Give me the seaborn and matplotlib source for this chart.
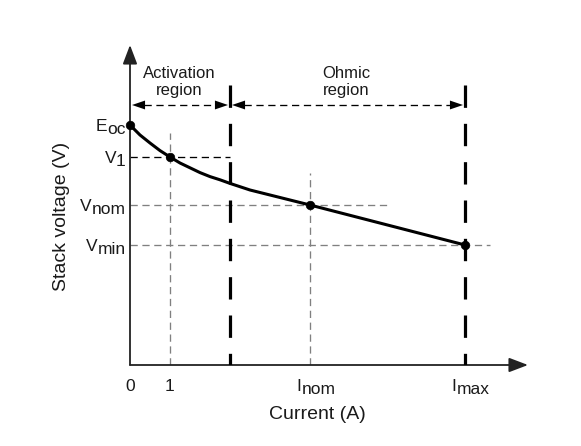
import matplotlib
matplotlib.use("Agg")
import matplotlib.pyplot as plt
import seaborn as sns

# polarization curve (1 current unit = 40 px, 1 voltage unit = 40 px)
current = [0, 0.25, 0.5, 0.75, 1, 1.25, 1.5, 1.75, 2.0, 2.25, 2.5, 3.0, 3.5, 4.0, 4.5, 8.375]
voltage = [6.0, 5.75, 5.55, 5.36, 5.2, 5.05, 4.93, 4.81, 4.71, 4.63, 4.54, 4.375, 4.25, 4.125, 4.0, 3.0]

# marked points: Eoc, V1, Vnom, Vmin
pt_current = [0, 1, 4.5, 8.375]
pt_voltage = [6.0, 5.2, 4.0, 3.0]
v_names = [("E", "oc"), ("V", "1"), ("V", "nom"), ("V", "min")]
i_ticks = [0, 1, 4.5, 8.375]
i_names = [("0", ""), ("1", ""), ("I", "nom"), ("I", "max")]

i_boundary = 2.5
regions = ["Activation\nregion", "Ohmic\nregion"]
region_x = [1.22, 5.4]

sns.set_style("white")
plt.rcParams["font.family"] = ["Liberation Sans", "DejaVu Sans"]
txt = "#1a1a1a"
gray = "#808080"

fig = plt.figure(figsize=(5.81, 4.46), dpi=100)
ax = fig.add_axes([130 / 581, 81 / 446, 400 / 581, 324 / 446])
ax.set_xlim(0, 10)
ax.set_ylim(0, 8.1)
ax.set_xticks([])
ax.set_yticks([])
for s in ax.spines.values():
    s.set_visible(False)

# axes with arrow heads
axis_arrow = dict(arrowstyle="-|>,head_length=0.58,head_width=0.22", mutation_scale=20,
                  lw=1.3, color="#222222", shrinkA=0, shrinkB=0)
ax.annotate("", xy=(0, 8.0), xytext=(0, 0), arrowprops=axis_arrow, annotation_clip=False)
ax.annotate("", xy=(9.95, 0), xytext=(0, 0), arrowprops=axis_arrow, annotation_clip=False)

# thin guide lines
thin = dict(lw=0.95, ls=(0, (5.5, 3.5)))
ax.plot([0, i_boundary], [pt_voltage[1]] * 2, color="black", **thin)
ax.plot([pt_current[1]] * 2, [0, 5.8], color=gray, **thin)
ax.plot([0, 6.5], [pt_voltage[2]] * 2, color=gray, **thin)
ax.plot([pt_current[2]] * 2, [0, 4.8], color=gray, **thin)
ax.plot([0, 9.0], [pt_voltage[3]] * 2, color=gray, **thin)

# thick region borders
for x in [i_boundary, pt_current[3]]:
    ax.plot([x, x], [7.0, 0], color="black", lw=2.3, ls=(0, (7, 5)), zorder=3)

# region arrows
head = dict(arrowstyle="-|>,head_length=0.47,head_width=0.16", mutation_scale=20,
            lw=0, color="black", shrinkA=0, shrinkB=0)
spans = [(0.05, i_boundary - 0.05), (i_boundary + 0.05, pt_current[3] - 0.05)]
for x0, x1 in spans:
    ax.plot([x0 + 0.3, x1 - 0.3], [6.5, 6.5], color="black", **thin)
    ax.annotate("", xy=(x0, 6.5), xytext=(x0 + 0.4, 6.5), arrowprops=head)
    ax.annotate("", xy=(x1, 6.5), xytext=(x1 - 0.4, 6.5), arrowprops=head)
for label, x in zip(regions, region_x):
    ax.text(x, 7.08, label, ha="center", va="center", fontsize=12, linespacing=1.2, color=txt)

# curve and points
sns.lineplot(x=current, y=voltage, color="black", lw=2.2, ax=ax, clip_on=False, zorder=4)
sns.scatterplot(x=pt_current, y=pt_voltage, s=38, color="black", edgecolor="black",
                ax=ax, clip_on=False, zorder=5)

# voltage labels with level subscripts
for (main, sub), v in zip(v_names, pt_voltage):
    s = ax.annotate(sub, xy=(0, v), xytext=(-3, -6.5), textcoords="offset points",
                    ha="right", va="baseline", fontsize=12.5, color=txt, annotation_clip=False)
    ax.annotate(main, xy=(0, 0), xycoords=s, xytext=(0, 2.5), textcoords="offset points",
                ha="right", va="bottom", fontsize=12.5, color=txt)

# current labels
for (main, sub), x in zip(i_names, i_ticks):
    if not sub:
        ax.annotate(main, xy=(x, 0), xytext=(0, -18.7), textcoords="offset points",
                    ha="center", va="baseline", fontsize=12.5, color=txt, annotation_clip=False)
        continue
    m = ax.annotate(main, xy=(x, 0), xytext=(-6, -18.7), textcoords="offset points",
                    ha="right", va="baseline", fontsize=12.5, color=txt, annotation_clip=False)
    ax.annotate(sub, xy=(1, 0), xycoords=m, xytext=(0, -2.5), textcoords="offset points",
                ha="left", va="bottom", fontsize=12.5, color=txt)

# axis titles
ax.text(0.469, -0.127, "Current (A)", transform=ax.transAxes, ha="center", va="top",
        fontsize=14, color=txt)
ax.text(-0.15, 0.457, "Stack voltage (V)", transform=ax.transAxes, ha="center", va="bottom",
        rotation=90, rotation_mode="anchor", fontsize=14, color=txt)

fig.savefig("out.png", dpi=100)
